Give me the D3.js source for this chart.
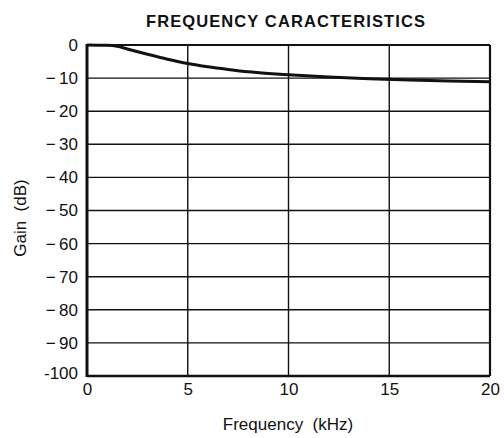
<!DOCTYPE html>
<html>
<head>
<meta charset="utf-8">
<script src="https://cdn.jsdelivr.net/npm/d3@7"></script>
<style>
  html, body { margin: 0; padding: 0; background: #fff; }
  svg { display: block; }
  text { font-family: "Liberation Sans", Arial, Helvetica, sans-serif; fill: #111; white-space: pre; }
</style>
</head>
<body>
<svg id="chart" width="504" height="438"></svg>
<script>
// Frequency response of the filter (gain in dB vs frequency in kHz)
const freqKHz = [0, 1, 1.5, 2, 3, 4, 5, 6, 7, 8, 9, 10, 12, 14, 16, 18, 20];
const gainDB  = [0, -0.1, -0.4, -1.2, -2.8, -4.3, -5.6, -6.6, -7.4, -8.1, -8.6, -9.0, -9.7, -10.2, -10.6, -10.9, -11.1];

const xTicks = [0, 5, 10, 15, 20];
const yTicks = [0, -10, -20, -30, -40, -50, -60, -70, -80, -90, -100];

const titleText = "FREQUENCY CARACTERISTICS";
const xLabel = "Frequency  (kHz)";
const yLabel = "Gain  (dB)";

const svg = d3.select("#chart");
const m = { left: 87, right: 490, top: 45, bottom: 376 };

const x = d3.scaleLinear().domain([0, 20]).range([m.left, m.right]);
const y = d3.scaleLinear().domain([-100, 0]).range([m.bottom, m.top]);

// grid
const grid = svg.append("g").attr("stroke", "#111").attr("stroke-width", 1.4);
grid.selectAll("line.h").data(yTicks.filter(d => d !== 0 && d !== -100)).join("line")
  .attr("x1", m.left).attr("x2", m.right)
  .attr("y1", d => y(d)).attr("y2", d => y(d));
grid.selectAll("line.v").data(xTicks.filter(d => d !== 0 && d !== 20)).join("line")
  .attr("y1", m.top).attr("y2", m.bottom)
  .attr("x1", d => x(d)).attr("x2", d => x(d));

// frame
svg.append("line").attr("x1", m.left).attr("x2", m.right).attr("y1", m.top).attr("y2", m.top)
  .attr("stroke", "#111").attr("stroke-width", 2.2);
svg.append("line").attr("x1", m.right).attr("x2", m.right).attr("y1", m.top).attr("y2", m.bottom)
  .attr("stroke", "#111").attr("stroke-width", 2.2);
svg.append("line").attr("x1", m.left).attr("x2", m.right).attr("y1", m.bottom).attr("y2", m.bottom)
  .attr("stroke", "#111").attr("stroke-width", 2.6);
svg.append("line").attr("x1", m.left).attr("x2", m.left).attr("y1", m.top - 1).attr("y2", m.bottom + 1)
  .attr("stroke", "#111").attr("stroke-width", 3);

// axes (labels only; lines drawn above)
const yAxis = d3.axisLeft(y).tickValues(yTicks).tickSize(0).tickPadding(9)
  .tickFormat(d => d === 0 ? "0" : d === -100 ? "-100" : "\u2212\u2009" + Math.abs(d));
const gy = svg.append("g").attr("transform", `translate(${m.left},0)`).call(yAxis);
gy.select(".domain").remove();
gy.selectAll("text").attr("font-size", 17).attr("fill", "#111")
  .attr("font-family", "'Liberation Sans', Arial, sans-serif");
gy.selectAll(".tick").filter(d => d === -100).select("text").attr("dy", "0.15em");

const xAxis = d3.axisBottom(x).tickValues(xTicks).tickSize(0).tickPadding(7).tickFormat(d3.format("d"));
const gx = svg.append("g").attr("transform", `translate(0,${m.bottom})`).call(xAxis);
gx.select(".domain").remove();
gx.selectAll("text").attr("font-size", 17).attr("fill", "#111")
  .attr("font-family", "'Liberation Sans', Arial, sans-serif");

// response curve
const line = d3.line().x((d, i) => x(freqKHz[i])).y(d => y(d)).curve(d3.curveMonotoneX);
svg.append("path").datum(gainDB).attr("d", line)
  .attr("fill", "none").attr("stroke", "#111").attr("stroke-width", 3);

// titles
svg.append("text").attr("x", 286).attr("y", 27).attr("text-anchor", "middle")
  .attr("font-size", 16.5).attr("font-weight", "bold").attr("letter-spacing", 1.1).text(titleText);
svg.append("text").attr("x", 288).attr("y", 430).attr("text-anchor", "middle")
  .attr("font-size", 17).text(xLabel);
svg.append("text").attr("transform", "translate(26,218) rotate(-90)").attr("text-anchor", "middle")
  .attr("font-size", 17).text(yLabel);
</script>
</body>
</html>
